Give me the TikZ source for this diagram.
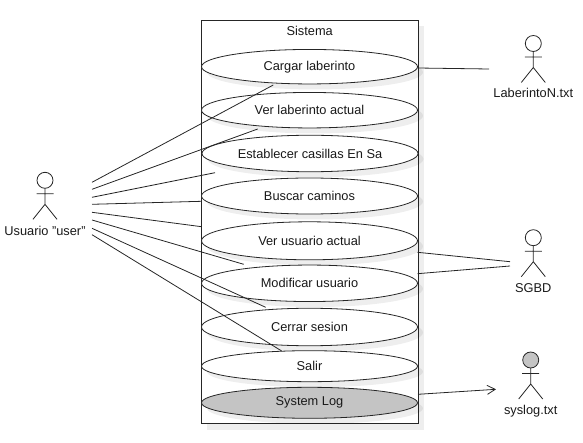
\documentclass[tikz,border=0pt]{standalone}
\usepackage{fontspec}
\setmainfont{Liberation Sans}
\usetikzlibrary{shapes.geometric,shadows,arrows.meta}
\definecolor{fillgray}{HTML}{C4C4C4}
\tikzset{
  ink/.style={draw=black!85,line width=0.8pt},
  softshadow/.style={general shadow={fill=black,fill opacity=0.065,draw=none,shadow xshift=#1,shadow yshift=-#1}},
  uc/.style={ink,ellipse,fill=white,minimum width=216pt,inner sep=0pt,text=black!90,softshadow=5.5pt},
  lab/.style={font=\fontsize{12.8}{15}\selectfont,text=black!90,inner sep=0pt},
  link/.style={ink},
  pics/stick/.style={code={
    \draw[ink,fill=#1] (0,0) circle (8);
    \draw[ink] (0,8) -- (0,24) (-8.5,13.5) -- (8.5,13.5) (-12,39) -- (0,24) -- (12,39);
  }},
  pics/stick/.default=white
}
\begin{document}
\begin{tikzpicture}[x=1pt,y=-1pt]
\useasboundingbox (0,0) rectangle (583,443);
% system boundary
\node[ink,fill=white,rectangle,inner sep=0pt,minimum width=216.5pt,minimum height=403.5pt,softshadow=6pt] (sys) at (309.7,222) {};
\node[lab] (systitle) at (309.7,30.5) {Sistema};
% use cases
\node[uc,minimum height=34.5pt,lab] (cargar) at (309.5,66.7) {Cargar laberinto};
\node[uc,minimum height=35.5pt,lab] (verlab) at (309.5,110.2) {Ver laberinto actual};
\node[uc,minimum height=36.5pt,lab] (casillas) at (310,153.5) {Establecer casillas En Sa};
\node[uc,minimum height=36pt,lab] (buscar) at (309.5,196) {Buscar caminos};
\node[uc,minimum height=38pt,lab] (verusu) at (309.5,240.8) {Ver usuario actual};
\node[uc,minimum height=36.5pt,lab] (modif) at (309.5,283.3) {Modificar usuario};
\node[uc,minimum height=37.5pt,lab] (cerrar) at (309.5,327) {Cerrar sesion};
\node[uc,minimum height=31pt,lab] (salir) at (309.5,366.2) {Salir};
\node[uc,minimum height=31pt,lab,fill=fillgray] (syslogcase) at (309.5,402.8) {System Log};
% actors
\pic at (45,180.3) {stick};
\node[lab] (user) at (45,230.7) {Usuario "user"};
\pic at (533.3,43.5) {stick};
\node[lab] (labfile) at (533.3,93.3) {LaberintoN.txt};
\pic at (533.3,237.7) {stick};
\node[lab] (sgbd) at (533.3,288.5) {SGBD};
\pic at (530.7,360) {stick=fillgray};
\node[lab] (syslogfile) at (530.7,411) {syslog.txt};
% connector ends
\coordinate (u1) at (92,182.3);
\coordinate (u2) at (92,189.3);
\coordinate (u3) at (92,197.3);
\coordinate (u4) at (92,204.3);
\coordinate (u5) at (92,212.3);
\coordinate (u6) at (92,220);
\coordinate (u7) at (92,228.3);
\coordinate (u8) at (92,234.7);
\coordinate (e1) at (273.3,85);
\coordinate (e2) at (257.7,129);
\coordinate (e3) at (215,172.7);
\coordinate (e4) at (201.5,201.3);
\coordinate (e5) at (201.5,226.7);
\coordinate (e6) at (243.7,264.3);
\coordinate (e7) at (265.7,307.3);
\coordinate (e8) at (281.7,351);
\coordinate (r1) at (417.5,68);
\coordinate (a1) at (489,69);
\coordinate (r2) at (417.5,252.3);
\coordinate (a2) at (510,261.7);
\coordinate (r3) at (417.5,273.7);
\coordinate (a3) at (510,266);
\coordinate (r4) at (418,394.3);
\coordinate (a4) at (496,389.3);
% connectors
\draw[link] (u1) -- (e1);
\draw[link] (u2) -- (e2);
\draw[link] (u3) -- (e3);
\draw[link] (u4) -- (e4);
\draw[link] (u5) -- (e5);
\draw[link] (u6) -- (e6);
\draw[link] (u7) -- (e7);
\draw[link] (u8) -- (e8);
\draw[link] (r1) -- (a1);
\draw[link] (r2) -- (a2);
\draw[link] (r3) -- (a3);
\draw[link,-{Straight Barb[length=8pt,width=9pt,line width=0.8pt]}] (r4) -- (a4);
\end{tikzpicture}
\end{document}
